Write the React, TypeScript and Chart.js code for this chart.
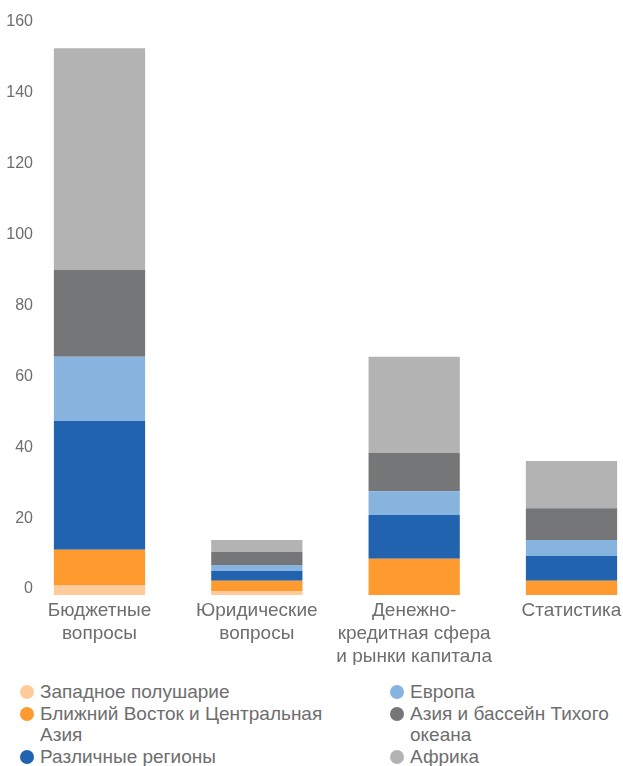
import React, { useEffect, useRef } from "react";
import { Chart, registerables } from "chart.js";

Chart.register(...registerables);

const categories: string[][] = [
  ["Бюджетные", "вопросы"],
  ["Юридические", "вопросы"],
  ["Денежно-", "кредитная сфера", "и рынки капитала"],
  ["Статистика"],
];

const seriesNames = [
  "Западное полушарие",
  "Ближний Восток и Центральная Азия",
  "Различные регионы",
  "Европа",
  "Азия и бассейн Тихого океана",
  "Африка",
];

const westernHemisphere = [2.8, 1.1, 0, 0];
const middleEastCentralAsia = [10.0, 2.9, 10.2, 4.0];
const variousRegions = [36.3, 2.8, 12.4, 7.0];
const europe = [18.1, 1.7, 6.7, 4.5];
const asiaPacific = [24.5, 3.6, 10.8, 9.0];
const africa = [62.6, 3.4, 27.1, 13.3];

const seriesValues = [westernHemisphere, middleEastCentralAsia, variousRegions, europe, asiaPacific, africa];
const seriesColors = ["#FFCB9A", "#FF9A2E", "#2163AE", "#86B4DE", "#757678", "#B3B3B3"];

const yTicks = [0, 20, 40, 60, 80, 100, 120, 140, 160];

const TEXT = "#6e6e6e";
const FONT = "'Liberation Sans', Arial, sans-serif";

export default function App() {
  const ref = useRef<HTMLCanvasElement | null>(null);

  useEffect(() => {
    if (!ref.current) return;
    const chart = new Chart(ref.current, {
      type: "bar",
      data: {
        labels: categories as any,
        datasets: seriesNames.map((name, i) => ({
          label: name,
          data: seriesValues[i],
          backgroundColor: seriesColors[i],
          borderWidth: 0,
          categoryPercentage: 0.58,
          barPercentage: 1,
          clip: false as any,
        })),
      },
      options: {
        animation: false,
        responsive: false,
        devicePixelRatio: 1,
        layout: { padding: { top: 28, right: 51.5, bottom: 15, left: 0 } },
        plugins: { legend: { display: false }, tooltip: { enabled: false } },
        scales: {
          x: {
            stacked: true,
            offset: false,
            grid: { display: false, drawTicks: false },
            border: { display: false },
            ticks: {
              color: TEXT,
              font: { family: FONT, size: 19, lineHeight: 1.21 },
              padding: 4,
              maxRotation: 0,
              autoSkip: false,
            },
            afterFit: (s: any) => {
              s.height = 70;
              s.paddingLeft = 0;
              s.paddingRight = 0;
            },
          },
          y: {
            stacked: true,
            min: 0,
            max: 160,
            afterBuildTicks: (s: any) => {
              s.ticks = yTicks.map((v) => ({ value: v }));
            },
            grid: { display: false, drawTicks: false },
            border: { display: false },
            ticks: {
              color: TEXT,
              font: { family: FONT, size: 16 },
              padding: 66.5,
              labelOffset: -6,
            },
            afterFit: (s: any) => {
              s.width = 99.5;
              s.paddingTop = 0;
              s.paddingBottom = 0;
            },
          },
        },
      },
    });
    return () => chart.destroy();
  }, []);

  const leftCol = [0, 1, 2];
  const rightCol = [3, 4, 5];

  const item = (i: number, textWidth: number) => (
    <div key={i} style={{ display: "flex", alignItems: "flex-start" }}>
      <span
        style={{
          flex: "none",
          width: 14,
          height: 14,
          borderRadius: "50%",
          background: seriesColors[i],
          marginTop: 4,
          marginRight: 6,
        }}
      />
      <span style={{ width: textWidth, whiteSpace: "normal" }}>{seriesNames[i]}</span>
    </div>
  );

  return (
    <div style={{ position: "absolute", left: 0, top: 0, width: 623, height: 766, background: "#fff" }}>
      <canvas ref={ref} width={623} height={680} style={{ position: "absolute", left: 0, top: 0 }} />
      <div
        style={{
          position: "absolute",
          top: 681,
          left: 20,
          width: 600,
          fontFamily: FONT,
          fontSize: 19,
          lineHeight: "21.7px",
          color: TEXT,
        }}
      >
        <div style={{ position: "absolute", left: 0, top: 0 }}>{leftCol.map((i) => item(i, 300))}</div>
        <div style={{ position: "absolute", left: 370, top: 0 }}>{rightCol.map((i) => item(i, 210))}</div>
      </div>
    </div>
  );
}
